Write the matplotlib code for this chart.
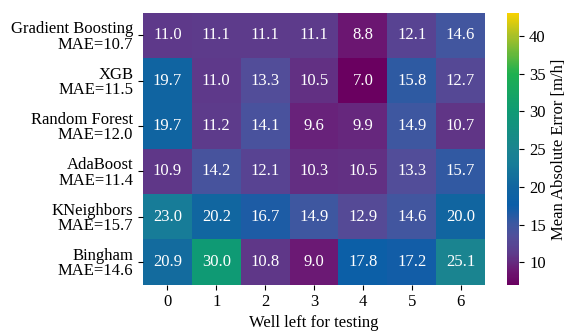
import matplotlib
matplotlib.use("Agg")
import matplotlib.pyplot as plt
from matplotlib.colors import LinearSegmentedColormap
import numpy as np

plt.rcParams["font.family"] = ["Liberation Serif", "DejaVu Serif"]

# Models and their overall MAE
models = ["Gradient Boosting", "XGB", "Random Forest", "AdaBoost", "KNeighbors", "Bingham"]
overall_mae = [10.7, 11.5, 12.0, 11.4, 15.7, 14.6]
wells = [0, 1, 2, 3, 4, 5, 6]

# MAE per left-out well
mae_gb = [11.0, 11.1, 11.1, 11.1, 8.8, 12.1, 14.6]
mae_xgb = [19.7, 11.0, 13.3, 10.5, 7.0, 15.8, 12.7]
mae_rf = [19.7, 11.2, 14.1, 9.6, 9.9, 14.9, 10.7]
mae_ada = [10.9, 14.2, 12.1, 10.3, 10.5, 13.3, 15.7]
mae_knn = [23.0, 20.2, 16.7, 14.9, 12.9, 14.6, 20.0]
mae_bingham = [20.9, 30.0, 10.8, 9.0, 17.8, 17.2, 25.1]

data = np.array([mae_gb, mae_xgb, mae_rf, mae_ada, mae_knn, mae_bingham])

# magenta -> purple -> blue -> teal -> green -> gold
cmap = LinearSegmentedColormap.from_list("mae", [
    (0.000, "#6a0060"),
    (0.056, "#6b1a74"),
    (0.111, "#5e3a8a"),
    (0.175, "#524e9a"),
    (0.222, "#3d58a0"),
    (0.292, "#0b5ea8"),
    (0.361, "#1165a0"),
    (0.444, "#177c98"),
    (0.500, "#1a8490"),
    (0.639, "#0f9a74"),
    (0.778, "#1eb050"),
    (0.917, "#a8c028"),
    (1.000, "#f8d200"),
])

fig = plt.figure(figsize=(5.69, 3.32), dpi=100)
ax = fig.add_axes([0.2513, 0.1425, 0.601, 0.819])
cax = fig.add_axes([0.8905, 0.1415, 0.0221, 0.819])

mesh = ax.pcolormesh(data, cmap=cmap, vmin=7.0, vmax=43.0)
ax.set_xlim(0, data.shape[1])
ax.set_ylim(data.shape[0], 0)

for i in range(data.shape[0]):
    for j in range(data.shape[1]):
        ax.text(j + 0.5, i + 0.5, f"{data[i, j]:.1f}", ha="center", va="center",
                color="white", fontsize=12)

ax.set_xticks(np.arange(len(wells)) + 0.5)
ax.set_xticklabels([str(w) for w in wells], fontsize=12)
ax.set_yticks(np.arange(len(models)) + 0.5)
ax.set_yticklabels([f"{m}\nMAE={v:.1f}" for m, v in zip(models, overall_mae)],
                   fontsize=12, ha="right", linespacing=0.95)
ax.set_xlabel("Well left for testing", fontsize=12, labelpad=3)
for s in ax.spines.values():
    s.set_visible(False)

cb = fig.colorbar(mesh, cax=cax)
cb.set_ticks([10, 15, 20, 25, 30, 35, 40])
cb.ax.tick_params(labelsize=12)
cb.set_label("Mean Absolute Error [m/h]", fontsize=12)
cb.outline.set_visible(False)

fig.savefig("out.png", dpi=100)
